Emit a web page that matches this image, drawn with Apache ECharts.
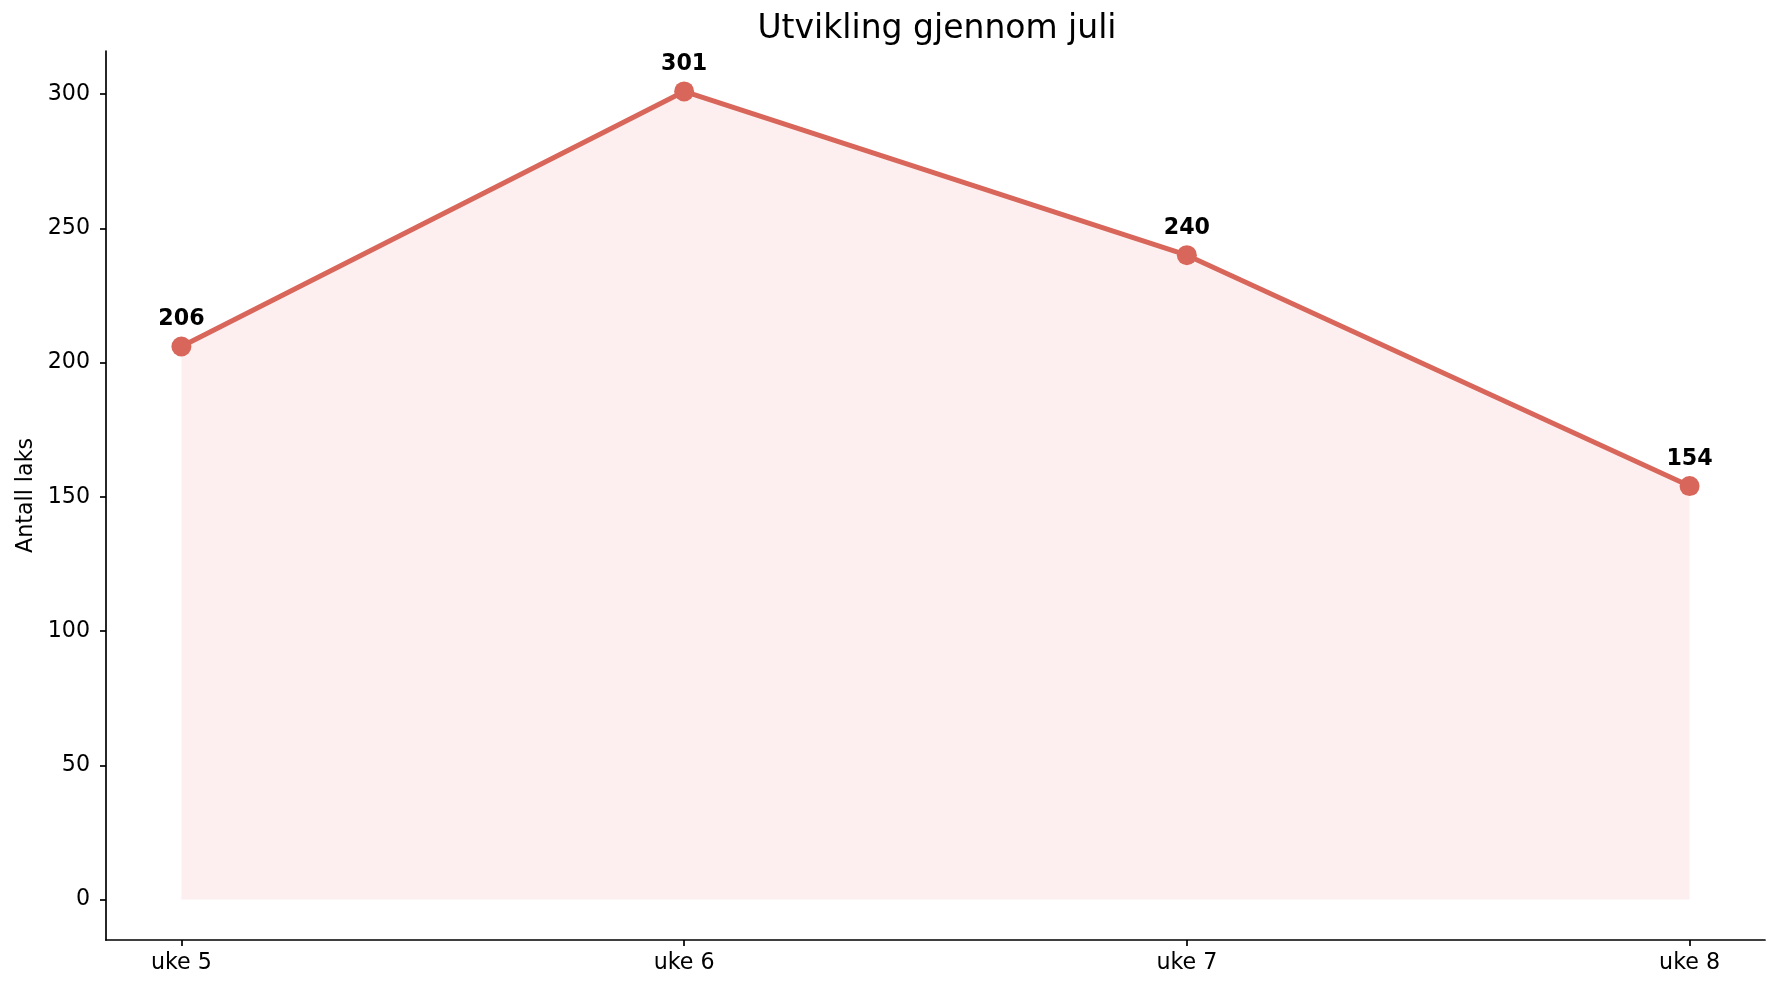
<!DOCTYPE html>
<html>
<head>
<meta charset="utf-8">
<script src="https://cdn.jsdelivr.net/npm/echarts@6/dist/echarts.min.js"></script>
<style>
html,body{margin:0;padding:0;background:#fff;}
#c{width:1780px;height:992px;}
</style>
</head>
<body>
<div id="c"></div>
<script>
const weeks = ['uke 5', 'uke 6', 'uke 7', 'uke 8'];
const counts = [206, 301, 240, 154];
const yTicks = [0, 50, 100, 150, 200, 250, 300];
const titleText = 'Utvikling gjennom juli';
const yName = 'Antall laks';

const xIdx = weeks.map((w, i) => i);
const seriesData = counts.map((v, i) => [i, v]);
const font = 'DejaVu Sans';

const chart = echarts.init(document.getElementById('c'), null, {renderer: 'canvas'});
chart.setOption({
  animation: false,
  backgroundColor: '#ffffff',
  title: {
    text: titleText,
    left: 932,
    textAlign: 'center',
    top: 8,
    textStyle: {fontFamily: font, fontSize: 33, fontWeight: 'normal', color: '#000'}
  },
  grid: {left: 106, right: 15, top: 51, bottom: 52, containLabel: false},
  xAxis: {
    type: 'value',
    min: -0.15,
    max: 3.15,
    splitLine: {show: false},
    axisLine: {show: true, onZero: false, lineStyle: {color: '#000', width: 1.7}},
    axisTick: {show: true, customValues: xIdx, length: 6, lineStyle: {color: '#000', width: 1.7}},
    axisLabel: {
      customValues: xIdx,
      formatter: v => weeks[Math.round(v)],
      margin: 12,
      fontFamily: font, fontSize: 22.2, color: '#000'
    }
  },
  yAxis: {
    type: 'value',
    min: -15.05,
    max: 316.05,
    name: yName,
    nameLocation: 'middle',
    nameGap: 69,
    nameTextStyle: {fontFamily: font, fontSize: 22.2, color: '#000'},
    splitLine: {show: false},
    axisLine: {show: true, onZero: false, lineStyle: {color: '#000', width: 1.7}},
    axisTick: {show: true, customValues: yTicks, length: 6, lineStyle: {color: '#000', width: 1.7}},
    axisLabel: {
      customValues: yTicks,
      margin: 16,
      fontFamily: font, fontSize: 22.2, color: '#000'
    }
  },
  series: [{
    type: 'line',
    data: seriesData,
    symbol: 'circle',
    symbolSize: 20,
    itemStyle: {color: '#d9665a'},
    lineStyle: {color: '#d9665a', width: 5},
    areaStyle: {color: 'rgba(230,90,90,0.14)', origin: 0},
    label: {
      show: true,
      position: 'top',
      distance: 6,
      formatter: p => p.value[1],
      fontFamily: font, fontSize: 22.2, fontWeight: 'bold', color: '#000'
    },
    z: 3
  }]
});
</script>
</body>
</html>
